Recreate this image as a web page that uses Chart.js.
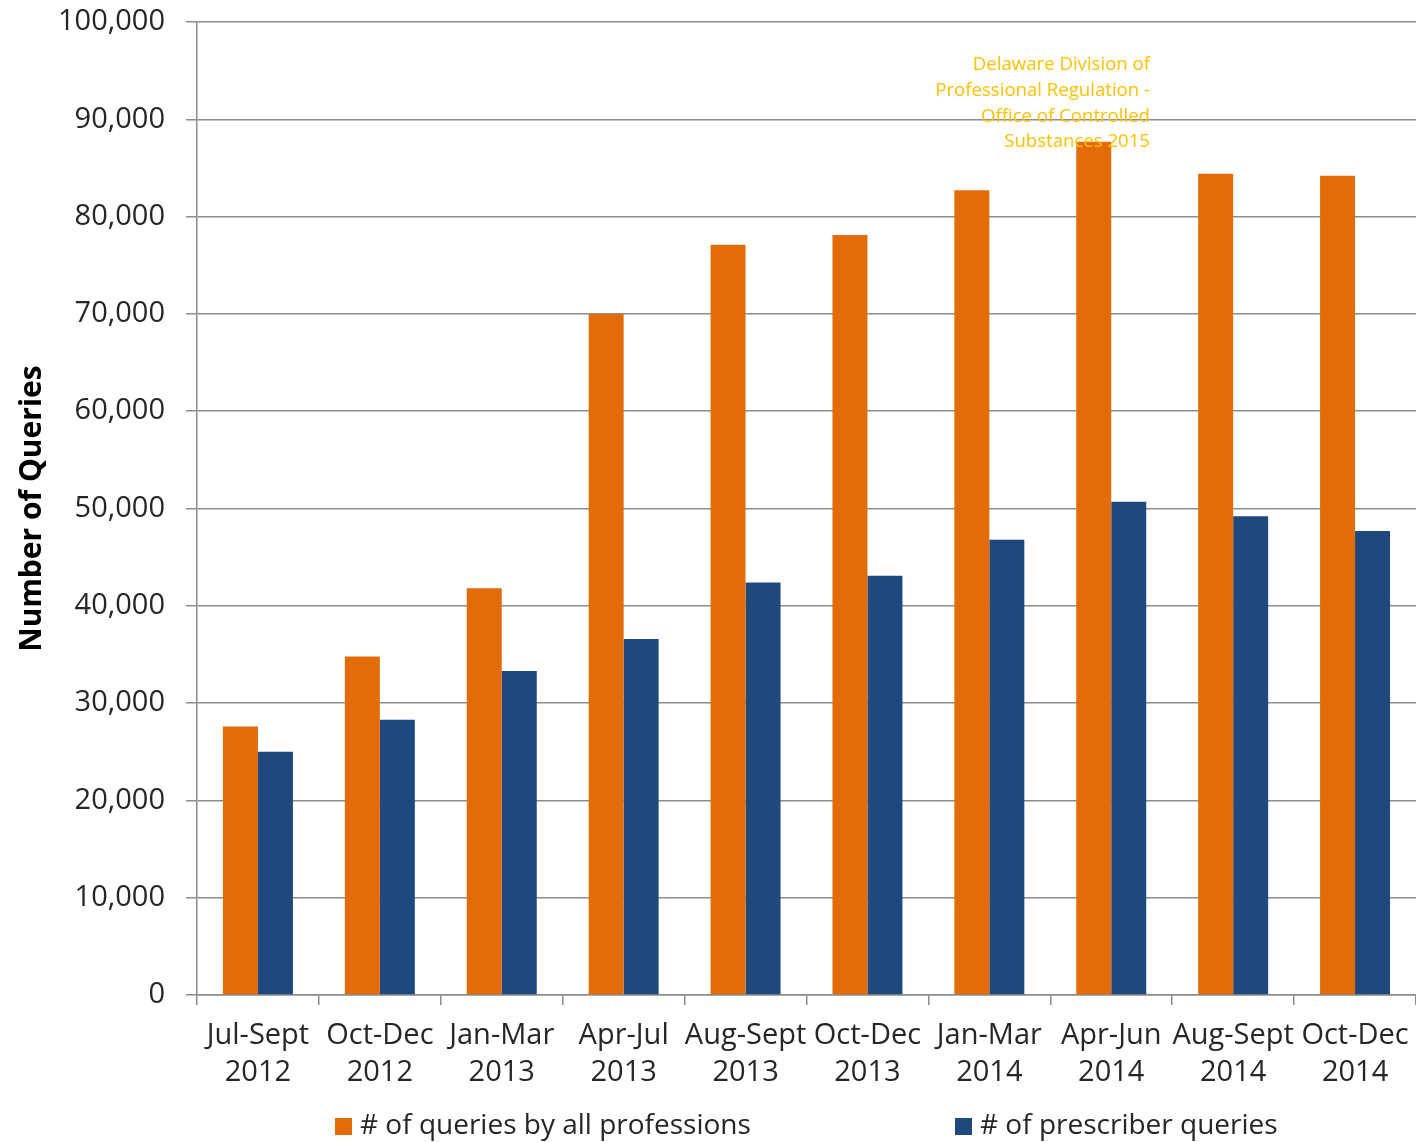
<!DOCTYPE html>
<html>
<head>
<meta charset="utf-8">
<script src="https://cdn.jsdelivr.net/npm/chart.js@4"></script>
<style>
  html, body { margin: 0; padding: 0; background: #fff; }
  #wrap { position: relative; width: 1416px; height: 1142px; overflow: hidden; }
  #chart { position: absolute; left: 0; top: 0; }
  .legend-item { position: absolute; top: 1104px; font: 28px "Open Sans", sans-serif; color: #262626; white-space: nowrap; }
  .legend-item span.box { display: inline-block; width: 17px; height: 17px; margin-right: 8px; vertical-align: -1px; }
</style>
</head>
<body>
<div id="wrap">
  <canvas id="chart" width="1416" height="1142"></canvas>
  <div class="legend-item" id="leg-all" style="left:335px"></div>
  <div class="legend-item" id="leg-pres" style="left:955px"></div>
</div>
<script>
const categories = [
    ['Jul-Sept', '2012'], ['Oct-Dec', '2012'], ['Jan-Mar', '2013'], ['Apr-Jul', '2013'],
    ['Aug-Sept', '2013'], ['Oct-Dec', '2013'], ['Jan-Mar', '2014'], ['Apr-Jun', '2014'],
    ['Aug-Sept', '2014'], ['Oct-Dec', '2014']
];
const allProfessions = [27600, 34800, 41800, 70000, 77100, 78100, 82700, 87700, 84400, 84200];
const prescriberQueries = [25000, 28300, 33300, 36600, 42400, 43100, 46800, 50700, 49200, 47700];
const seriesNames = ['# of queries by all professions', '# of prescriber queries'];
const seriesColors = ['#E36C0A', '#1F497D'];
const sourceNote = ['Delaware Division of', 'Professional Regulation -', 'Office of Controlled', 'Substances 2015'];

const FONT = '"Open Sans", sans-serif';
const TEXT = '#262626';
const GRID = '#8c8c8c';

// source note drawn over the bars, right-aligned like the original text box
const notePlugin = {
    id: 'note',
    afterDatasetsDraw(chart) {
        const ctx = chart.ctx;
        ctx.save();
        ctx.font = '18.6px ' + FONT;
        ctx.fillStyle = '#FFC000';
        ctx.textAlign = 'right';
        ctx.textBaseline = 'middle';
        sourceNote.forEach((line, i) => ctx.fillText(line, 1150, 65 + i * 25.7));
        ctx.restore();
    }
};

new Chart(document.getElementById('chart'), {
    type: 'bar',
    data: {
        labels: categories,
        datasets: [
            { label: seriesNames[0], data: allProfessions, backgroundColor: seriesColors[0] },
            { label: seriesNames[1], data: prescriberQueries, backgroundColor: seriesColors[1] }
        ]
    },
    options: {
        responsive: false,
        animation: false,
        layout: { padding: { top: 22, right: 0, left: 0, bottom: 0 } },
        datasets: { bar: { categoryPercentage: 0.574, barPercentage: 1.0 } },
        plugins: { legend: { display: false }, tooltip: { enabled: false } },
        scales: {
            x: {
                afterFit(s) { s.height = 147; s.paddingLeft = 0; s.paddingRight = 0; },
                grid: { drawOnChartArea: false, drawTicks: true, tickLength: 10, color: GRID, lineWidth: 1.5, offset: true },
                border: { color: GRID, width: 1.5 },
                ticks: { color: TEXT, font: { family: FONT, size: 29, lineHeight: 1.25 }, padding: 13, maxRotation: 0, autoSkip: false }
            },
            y: {
                min: 0, max: 100000,
                afterFit(s) { s.width = 197; s.paddingTop = 0; s.paddingBottom = 0; },
                grid: { color: GRID, lineWidth: 1.5, tickLength: 11 },
                border: { color: GRID, width: 1.5 },
                ticks: {
                    stepSize: 10000, color: TEXT, padding: 21,
                    font: { family: FONT, size: 29 },
                    callback: v => v.toLocaleString('en-US')
                },
                title: {
                    display: true, text: 'Number of Queries', color: '#000',
                    font: { family: FONT, size: 30, weight: 'bold' }, padding: { top: 14, bottom: 0 }
                }
            }
        }
    },
    plugins: [notePlugin]
});

// legend laid out like the original, items spread apart
[['leg-all', 0], ['leg-pres', 1]].forEach(([id, i]) => {
    const el = document.getElementById(id);
    el.innerHTML = '<span class="box" style="background:' + seriesColors[i] + '"></span>' + seriesNames[i];
});
</script>
</body>
</html>
